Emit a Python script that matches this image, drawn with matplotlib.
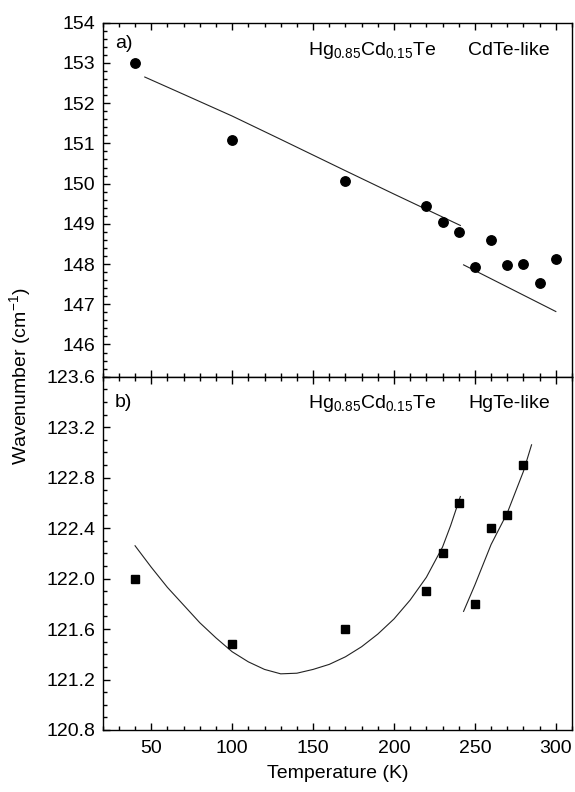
import matplotlib
matplotlib.use("Agg")
import matplotlib.pyplot as plt
from matplotlib.ticker import MultipleLocator

plt.rcParams['font.family'] = ['Liberation Sans', 'DejaVu Sans']
plt.rcParams['mathtext.fontset'] = 'custom'
plt.rcParams['mathtext.rm'] = 'Liberation Sans'
plt.rcParams['mathtext.it'] = 'Liberation Sans:italic'

# measured points
temp = [40, 100, 170, 220, 230, 240, 250, 260, 270, 280, 290, 300]
cdte = [153.0, 151.09, 150.06, 149.44, 149.04, 148.8, 147.93, 148.59, 147.97, 147.99, 147.53, 148.13]
temp_hg = [40, 100, 170, 220, 230, 240, 250, 260, 270, 280]
hgte = [122.0, 121.48, 121.6, 121.9, 122.2, 122.6, 121.8, 122.4, 122.5, 122.9]

# fitted curves
fit_a1_t = [46, 70, 100, 130, 170, 200, 241]
fit_a1_w = [152.65, 152.22, 151.68, 151.10, 150.32, 149.74, 148.96]
fit_a2_t = [243, 300]
fit_a2_w = [147.98, 146.82]
fit_b1_t = [40, 50, 60, 70, 80, 90, 100, 110, 120, 130, 140, 150, 160, 170, 180, 190,
            200, 210, 220, 230, 235, 241]
fit_b1_w = [122.26, 122.09, 121.93, 121.79, 121.65, 121.53, 121.42, 121.34, 121.28, 121.245,
            121.25, 121.28, 121.32, 121.38, 121.46, 121.56, 121.68, 121.83, 122.01, 122.25,
            122.42, 122.65]
fit_b2_t = [243, 250, 260, 270, 280, 285]
fit_b2_w = [121.74, 121.95, 122.27, 122.52, 122.85, 123.06]

fig = plt.figure(figsize=(5.75, 7.92), dpi=100)
ax1 = fig.add_axes([0.1786, 0.5244, 0.8162, 0.4469])
ax2 = fig.add_axes([0.1786, 0.0783, 0.8162, 0.4461])

fs = 14
for ax in (ax1, ax2):
    ax.set_xlim(20, 310)
    ax.xaxis.set_major_locator(MultipleLocator(50))
    ax.xaxis.set_minor_locator(MultipleLocator(10))
    ax.tick_params(which='both', direction='in', top=True, right=False, labelsize=fs, width=1)
    ax.tick_params(which='major', length=5)
    ax.tick_params(which='minor', length=3)
    ax.tick_params(axis='x', pad=7)
    ax.tick_params(axis='y', pad=5.5)
    for s in ax.spines.values():
        s.set_linewidth(1.0)

# panel a
ax1.plot(fit_a1_t, fit_a1_w, color='#222222', lw=0.8)
ax1.plot(fit_a2_t, fit_a2_w, color='#222222', lw=0.8)
ax1.plot(temp, cdte, 'o', color='black', ms=6.8, ls='none')
ax1.set_ylim(145.2, 154)
ax1.yaxis.set_major_locator(MultipleLocator(1))
ax1.yaxis.set_minor_locator(MultipleLocator(0.2))
ax1.tick_params(labelbottom=False)
ax1.text(0.026, 0.93, 'a)', transform=ax1.transAxes, fontsize=fs, va='baseline')
ax1.text(0.438, 0.909, r'Hg$_{\mathregular{0.85}}$Cd$_{\mathregular{0.15}}$Te',
         transform=ax1.transAxes, fontsize=fs, va='baseline')
ax1.text(0.779, 0.909, 'CdTe-like', transform=ax1.transAxes, fontsize=fs, va='baseline')

# panel b
ax2.plot(fit_b1_t, fit_b1_w, color='#222222', lw=0.8)
ax2.plot(fit_b2_t, fit_b2_w, color='#222222', lw=0.8)
ax2.plot(temp_hg, hgte, 's', color='black', ms=6, ls='none')
ax2.set_ylim(120.8, 123.6)
ax2.yaxis.set_major_locator(MultipleLocator(0.4))
ax2.yaxis.set_minor_locator(MultipleLocator(0.1))
ax2.yaxis.set_major_formatter(plt.FormatStrFormatter('%.1f'))
ax2.text(0.026, 0.915, 'b)', transform=ax2.transAxes, fontsize=fs, va='baseline')
ax2.text(0.438, 0.911, r'Hg$_{\mathregular{0.85}}$Cd$_{\mathregular{0.15}}$Te',
         transform=ax2.transAxes, fontsize=fs, va='baseline')
ax2.text(0.779, 0.911, 'HgTe-like', transform=ax2.transAxes, fontsize=fs, va='baseline')
ax2.set_xlabel('Temperature (K)', fontsize=fs, labelpad=6)

fig.text(0.035, 0.5244, r'Wavenumber (cm$^{\mathregular{-1}}$)', rotation=90,
         fontsize=fs, va='center', ha='center')

fig.savefig('out.png', dpi=100)
